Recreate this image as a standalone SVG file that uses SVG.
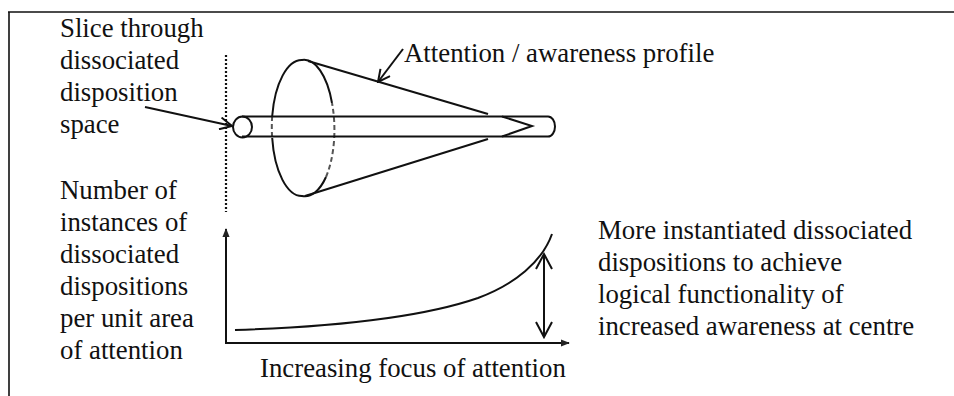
<svg xmlns="http://www.w3.org/2000/svg" width="954" height="396" viewBox="0 0 954 396">
<defs>
<style>
text{font-family:"Liberation Serif","Times New Roman",serif;font-size:26.8px;fill:#111}
.ln{fill:none;stroke:#111;stroke-width:2}
.dash{fill:none;stroke:#555;stroke-width:2;stroke-dasharray:5 3}
</style>
<marker id="open" viewBox="0 0 14 14" refX="13" refY="7" markerWidth="14" markerHeight="14" markerUnits="userSpaceOnUse" orient="auto">
<path d="M1,1 L13,7 L1,13" fill="none" stroke="#111" stroke-width="2"/>
</marker>
<marker id="tip" viewBox="0 0 10 10" refX="9" refY="5" markerWidth="9" markerHeight="9" markerUnits="userSpaceOnUse" orient="auto">
<path d="M0,1 L10,5 L0,9 Z" fill="#222"/>
</marker>
</defs>
<rect width="954" height="396" fill="#fff"/>
<g id="frame">
<path d="M8,12 H954 M9,12 V396" fill="none" stroke="#111" stroke-width="1.6"/>
</g>
<g id="slice-line">
<line x1="226" y1="55" x2="226" y2="212" stroke="#111" stroke-width="2.2" stroke-dasharray="2 2"/>
</g>
<g id="cone">
<path class="ln" d="M332,103 A30,68 0 0 0 302,60 A30,68 0 0 0 272.2,116"/>
<path class="ln" d="M272.2,138 A30,68 0 0 0 302,196 A30,68 0 0 0 326,177"/>
<path class="dash" d="M272.2,116 A30,68 0 0 0 272.2,138"/>
<path class="dash" d="M326,177 A30,68 0 0 0 332,103"/>
<line class="ln" x1="308" y1="61" x2="488" y2="114"/>
<line class="ln" x1="305" y1="196" x2="488" y2="139"/>
</g>
<g id="tube">
<ellipse class="ln" cx="242.5" cy="127" rx="9.5" ry="10.5"/>
<path class="ln" d="M242,116.5 H548 A7,10 0 0 1 548,136.5 H242"/>
<path class="ln" d="M502,116.5 L532,126 L502,136.5"/>
</g>
<g id="graph">
<line class="ln" x1="226" y1="343" x2="226" y2="229" marker-end="url(#tip)"/>
<line class="ln" x1="225" y1="343" x2="569" y2="343" marker-end="url(#tip)"/>
<path class="ln" d="M235,330 C330,327 420,318 478,298 C515,284 542,262 552,234" stroke-width="2.2"/>
</g>
<g id="connectors">
<line class="ln" x1="145" y1="107" x2="232" y2="126" marker-end="url(#open)"/>
<line class="ln" x1="403" y1="49" x2="378" y2="82" marker-end="url(#open)"/>
<line class="ln" x1="544" y1="256" x2="544" y2="335"/>
<path class="ln" d="M536,269 L544,254 L552,269 M536,322 L544,337 L552,322"/>
</g>
<g id="label-slice">
<text x="60" y="37">Slice through</text>
<text x="60" y="69">dissociated</text>
<text x="60" y="101">disposition</text>
<text x="60" y="133">space</text>
</g>
<g id="label-number">
<text x="60" y="199">Number of</text>
<text x="60" y="231">instances of</text>
<text x="60" y="263">dissociated</text>
<text x="60" y="295">dispositions</text>
<text x="60" y="327">per unit area</text>
<text x="60" y="359">of attention</text>
</g>
<g id="label-attention">
<text x="404" y="62">Attention / awareness profile</text>
</g>
<g id="label-more">
<text x="598" y="239">More instantiated dissociated</text>
<text x="598" y="271">dispositions to achieve</text>
<text x="598" y="303">logical functionality of</text>
<text x="598" y="335">increased awareness at centre</text>
</g>
<g id="label-axis">
<text x="260" y="377">Increasing focus of attention</text>
</g>
</svg>
